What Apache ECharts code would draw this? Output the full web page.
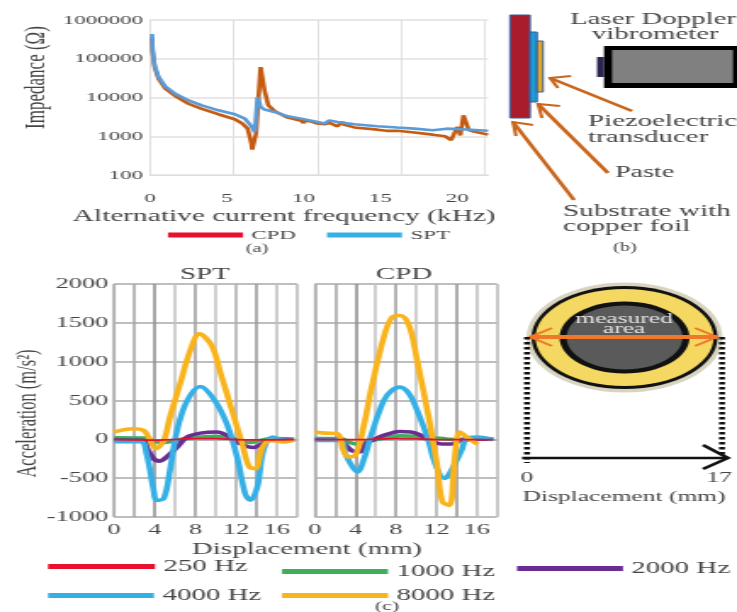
<!DOCTYPE html>
<html><head><meta charset="utf-8">
<style>html,body{margin:0;padding:0;background:#fff;overflow:hidden}
#c{width:434px;height:612px;transform:scaleX(1.69816);transform-origin:0 0;filter:blur(0.45px)}</style>
<script src="https://cdn.jsdelivr.net/npm/echarts@6/dist/echarts.min.js"></script>
</head><body><div id="c"></div>
<script>
// ---- data: panel (a) [kHz, ohm]
const cpdImpedance=[[.13,350000],[.17,150000],[.3,60000],[.56,30000],[1,16800],[1.64,10900],[2.5,6900],[3.37,5100],[4.44,3700],[5.52,2750],[6,2130],[6.35,1580],[6.6,650],[6.65,450],[6.8,420],[6.9,1170],[7.05,1290],[7.2,60700],[7.35,60000],[7.45,15300],[7.7,6300],[8.1,4470],[8.97,3020],[9.84,2500],[10,2200],[10.1,2500],[10.5,2400],[10.9,2130],[11.35,2050],[11.7,2200],[12.2,1800],[12.4,1700],[12.5,2400],[12.6,2000],[13.3,1690],[14.8,1480],[15.4,1380],[15.5,1450],[16.1,1380],[17.2,1250],[18.4,1100],[19.2,1000],[19.6,790],[19.8,725],[20,1740],[20.2,1050],[20.4,3470],[20.6,3150],[20.75,1450],[21,1350],[22,1100]];
const sptImpedance=[[.13,437000],[.17,163000],[.3,67000],[.56,33600],[1,19300],[1.64,12500],[2.5,8430],[3.37,6270],[4.44,4670],[5.52,3700],[6.17,2850],[6.6,1810],[6.82,1290],[6.9,1290],[7,10300],[7.08,11500],[7.2,5690],[7.46,4880],[8.1,4240],[8.97,3270],[9.84,2850],[10.9,2340],[11.35,2130],[11.67,2570],[12.2,2340],[13.3,2040],[14.8,1820],[16.1,1675],[17.2,1570],[18.4,1430],[19.3,1570],[20.6,1490],[22,1380]];
// ---- data: panel (c) SPT [mm, m/s2]
const spt250=[[0,-5],[4,-10],[8,8],[10,10],[12,-5],[14,-8],[17.7,-2]];
const spt1000=[[0,20],[3,15],[4,-30],[5,-40],[6,-20],[7,10],[8.5,30],[10,40],[11.5,10],[12.5,-20],[13.5,-40],[14.5,-10],[15.5,10],[17.7,5]];
const spt2000=[[0,-10],[3,-15],[3.2,-100],[3.9,-250],[4.5,-280],[5.2,-225],[6.2,-100],[7.2,30],[8.5,80],[10.1,95],[11.4,30],[12.4,-55],[13.7,-105],[14.6,-55],[15.4,-10],[17.7,-5]];
const spt4000=[[0,-30],[2.6,-30],[3.2,-185],[3.9,-655],[4.2,-785],[4.9,-760],[5.5,-400],[6.2,115],[7.2,500],[8.5,680],[9.8,520],[11.1,200],[12.1,-225],[12.9,-700],[13.4,-785],[14.1,-610],[14.7,-140],[15.6,30],[16.7,-10],[17.7,-10]];
const spt8000=[[0,95],[1.9,137],[2.9,115],[3.4,30],[4.1,-120],[4.9,-13],[5.5,287],[6.5,715],[7.5,1145],[8.4,1358],[9.6,1208],[10.5,844],[11.8,287],[12.6,-56],[13.3,-355],[13.9,-377],[14.6,-100],[15.4,-13],[16.7,-34],[17.7,-10]];
// ---- data: panel (c) CPD
const cpd250=[[0,-5],[4,-5],[8,8],[10,5],[12,-3],[14,-5],[17.6,-3]];
const cpd1000=[[0,10],[2.5,10],[3.3,-30],[4,-60],[5,-30],[6,-5],[7,20],[8.5,45],[10,40],[11,10],[12,15],[13,5],[14,-5],[15,10],[17.6,0]];
const cpd2000=[[0,-5],[2.5,-10],[3,-70],[3.7,-150],[4.5,-160],[5,-60],[6,10],[7,60],[8.4,100],[9.5,95],[10.5,50],[11.5,-20],[12.5,-60],[13.5,-60],[14.5,-10],[17.6,5]];
const cpd4000=[[0,-13],[2.5,-13],[3,-185],[3.7,-355],[4.2,-420],[4.8,-270],[5.6,73],[6.8,500],[7.6,630],[8.4,672],[9.3,587],[10.1,373],[11.1,30],[12,-355],[12.8,-505],[13.3,-440],[14.5,-140],[15,10],[16.1,30],[17.6,-4]];
const cpd8000=[[0,95],[1,80],[2.2,73],[2.8,-140],[3.3,-227],[4,-205],[4.8,160],[5.6,670],[6.8,1315],[7.6,1570],[8.4,1594],[9.3,1465],[10.1,1015],[11.3,245],[12.1,-355],[12.6,-805],[13.3,-850],[13.8,-270],[14.3,95],[15,30],[16.1,-64]];
const freqNames=['250 Hz','1000 Hz','2000 Hz','4000 Hz','8000 Hz'];
const freqColors=['#E8112D','#3FAE5A','#6A2C91','#35B0E6','#F9B31C'];

const K=737/434, sx=x=>x/K;
const serif='"Liberation Serif"', ink='#454545';
const chart=echarts.init(document.getElementById('c'));

const G=[];
const rect=(x1,y1,x2,y2,fill,stroke)=>G.push({type:'rect',shape:{x:sx(x1),y:y1,width:sx(x2-x1),height:y2-y1},style:{fill,stroke:stroke||null,lineWidth:stroke?1:0}});
const poly=(pts,stroke,w,dash)=>G.push({type:'polyline',shape:{points:pts.map(p=>[sx(p[0]),p[1]])},style:{stroke,lineWidth:w,fill:null,lineDash:dash||null}});
const ell=(cx,cy,rx,ry,fill)=>G.push({type:'ellipse',shape:{cx:sx(cx),cy,rx:sx(rx),ry},style:{fill}});
const txt=(t,x,y,size,align,fill)=>G.push({type:'text',x:sx(x),y,z:5,style:{text:t,font:size+'px '+serif,fill:fill||ink,textAlign:align||'center',textVerticalAlign:'middle'}});
// (b) schematic
rect(510,15,530,118,'#A81C2B','#3A5C9A');
rect(530,32,537,102,'#1B9DD9','#3A5C9A');
rect(537,41,543,92,'#E5A91F','#3A5C9A');
rect(597,57,604,77,'#2A2550');
rect(604,46,737,88,'#000');
rect(612,50,733,83,'#808080');
const orange='#C8651B';
poly([[632,111],[550,78]],orange,2.5); poly([[571,76],[550,78],[558,88]],orange,2);
poly([[608,173],[538,104]],orange,2.5); poly([[560,106],[538,104],[542,118]],orange,2);
poly([[574,200],[513,122]],orange,2.5); poly([[533,125],[513,122],[516,136]],orange,2);
txt('Laser Doppler',570,20,17,'left'); txt('vibrometer',592,35,17,'left');
txt('Piezoelectric',588,122,17,'left'); txt('transducer',588,138,17,'left');
txt('Paste',615,173,16.5,'left');
txt('Substrate with',563,211,17.2,'left'); txt('copper foil',563,226,17.2,'left');
txt('(a)',257,249,12); txt('(b)',625,248,12); txt('(c)',387,607,13);
// circle diagram
ell(624.5,337.5,98,55,'#D8D4C0'); ell(624.5,337.5,93,51.5,'#111'); ell(624.5,337.5,89,48.5,'#F5D862');
ell(624.5,337.5,65,36,'#111'); ell(624.5,337.5,58,32,'#5A5A5A');
txt('measured',624,319,15,'center','#e4e4e4'); txt('area',624,329,15,'center','#e4e4e4');
poly([[530,337],[717,337]],'#F0782A',4);
poly([[552,328],[530,337],[552,346]],'#F0782A',2); poly([[695,328],[717,337],[695,346]],'#F0782A',2);
poly([[527,337],[527,463]],'#111',3.5,[2.5,2.5]); poly([[722,337],[722,458]],'#111',3.5,[2.5,2.5]);
poly([[522,458],[728,458]],'#111',2.5); poly([[703,445],[728,458],[703,469]],'#111',2.5);
txt('0',527,478,15); txt('17',719,478,15); txt('Displacement (mm)',624,497,15);

const bounds={outerBoundsMode:'none'};
const cGrid=[{left:sx(150),width:sx(338),top:20,height:155,...bounds},{left:sx(114),width:sx(183),top:284,height:233,...bounds},{left:sx(315),width:sx(182),top:284,height:233,...bounds}];
const cLines=(data,names,gi)=>names.map((n,i)=>({type:'line',name:n,xAxisIndex:gi,yAxisIndex:gi,data:data[i],symbol:'none',smooth:.35,z:i==0?9:3+i,lineStyle:{color:freqColors[i],width:i==0?1.8:3.6},itemStyle:{color:freqColors[i]}}));
const vGrid={show:true,lineStyle:{width:1.6,color:['#b0b0b0','#a8a8a8','#909090','#c4c4c4','#a0a0a0','#c4c4c4','#b0b0b0','#9a9a9a','#c0c0c0','#bbb']}};
const hGrid={show:true,lineStyle:{width:1.5,color:'#a8a8a8'}};
const fmtC=v=>(v%4===0?String(v):'');
const plain=v=>String(v);
const legendAt=(name,x,y,w,size,color)=>({left:sx(x),top:y,data:[{name,icon:'rect',itemStyle:{color}}],itemWidth:sx(w),itemHeight:5,selectedMode:false,padding:0,textStyle:{fontFamily:serif,fontSize:size,color:ink}});

chart.setOption({
 animation:false,
 title:[
  {text:'SPT',left:sx(205),top:266,textAlign:'center',padding:0,textStyle:{fontFamily:serif,fontSize:17,fontWeight:'normal',color:ink}},
  {text:'CPD',left:sx(404),top:266,textAlign:'center',padding:0,textStyle:{fontFamily:serif,fontSize:17,fontWeight:'normal',color:ink}},
  {text:'Displacement (mm)',left:sx(307),top:541,textAlign:'center',padding:0,textStyle:{fontFamily:serif,fontSize:17,fontWeight:'normal',color:ink}}
 ],
 legend:[
  legendAt('CPD',168,228,75,13.5,'#E8112D'),
  legendAt('SPT',327,228,75,13.5,'#35B0E6'),
  legendAt(freqNames[0],48,558,107,17,freqColors[0]),
  legendAt(freqNames[1],282,563,106,17,freqColors[1]),
  legendAt(freqNames[2],517,560,106,17,freqColors[2]),
  legendAt(freqNames[3],48,587,106,17,freqColors[3]),
  legendAt(freqNames[4],282,587,106,17,freqColors[4])
 ],
 grid:cGrid,
 xAxis:[
  {type:'value',gridIndex:0,min:0,max:22,interval:5,name:'Alternative current frequency (kHz)',nameLocation:'middle',nameGap:33,nameMoveOverlap:false,
   nameTextStyle:{fontFamily:serif,fontSize:17.3,color:ink,padding:[0,41,0,0]},
   axisLine:{show:true,lineStyle:{color:'#ddd',width:1}},axisTick:{show:false},splitLine:{show:false},
   axisLabel:{margin:16,fontFamily:serif,fontSize:13.5,color:ink,showMaxLabel:false}},
  {type:'value',gridIndex:1,min:0,max:18,interval:2,axisLine:{show:true,lineStyle:{color:'#b0b0b0',width:1.5}},axisTick:{show:false},splitLine:vGrid,
   axisLabel:{margin:5,fontFamily:serif,fontSize:15.5,color:ink,formatter:fmtC}},
  {type:'value',gridIndex:2,min:0,max:18,interval:2,axisLine:{show:true,lineStyle:{color:'#b0b0b0',width:1.5}},axisTick:{show:false},splitLine:vGrid,
   axisLabel:{margin:5,fontFamily:serif,fontSize:15.5,color:ink,formatter:fmtC}},
  {type:'value',gridIndex:0,min:0,max:22,interval:5.45,axisLine:{show:false},axisTick:{show:false},axisLabel:{show:false},
   splitLine:{show:true,showMaxLine:false,lineStyle:{color:'#e0e0e0',width:1}}}
 ],
 yAxis:[
  {type:'log',logBase:10,gridIndex:0,min:100,max:1000000,name:'Impedance (Ω)',nameLocation:'middle',nameGap:58,nameMoveOverlap:false,
   nameTextStyle:{fontFamily:serif,fontSize:17,color:ink,padding:[0,0,0,40]},
   axisLine:{show:true,lineStyle:{color:'#ddd',width:1}},axisTick:{show:false},splitLine:{show:true,lineStyle:{color:'#e0e0e0',width:1.5}},
   axisLabel:{margin:4,fontFamily:serif,fontSize:13.5,color:ink,formatter:plain}},
  {type:'value',gridIndex:1,min:-1000,max:2000,interval:500,name:'Acceleration (m/s²)',nameLocation:'middle',nameGap:42,nameMoveOverlap:false,
   nameTextStyle:{fontFamily:serif,fontSize:16.5,color:ink,padding:[0,26,0,0]},
   axisLine:{show:true,lineStyle:{color:'#b0b0b0',width:1.2}},axisTick:{show:false},splitLine:hGrid,
   axisLabel:{margin:3.5,fontFamily:serif,fontSize:15.5,color:ink,formatter:plain}},
  {type:'value',gridIndex:2,min:-1000,max:2000,interval:500,
   axisLine:{show:true,lineStyle:{color:'#b0b0b0',width:1.2}},axisTick:{show:false},splitLine:hGrid,axisLabel:{show:false}}
 ],
 graphic:{elements:G},
 series:[
  {type:'line',name:'CPD',xAxisIndex:0,yAxisIndex:0,data:cpdImpedance,symbol:'none',z:3,lineStyle:{color:'#C55A11',width:2.6},itemStyle:{color:'#E8112D'}},
  {type:'line',name:'SPT',xAxisIndex:0,yAxisIndex:0,data:sptImpedance,symbol:'none',z:4,lineStyle:{color:'#5A9BD8',width:2.6},itemStyle:{color:'#35B0E6'}},
  ...cLines([spt250,spt1000,spt2000,spt4000,spt8000],freqNames,1),
  ...cLines([cpd250,cpd1000,cpd2000,cpd4000,cpd8000],freqNames,2)
 ]
});
</script></body></html>
